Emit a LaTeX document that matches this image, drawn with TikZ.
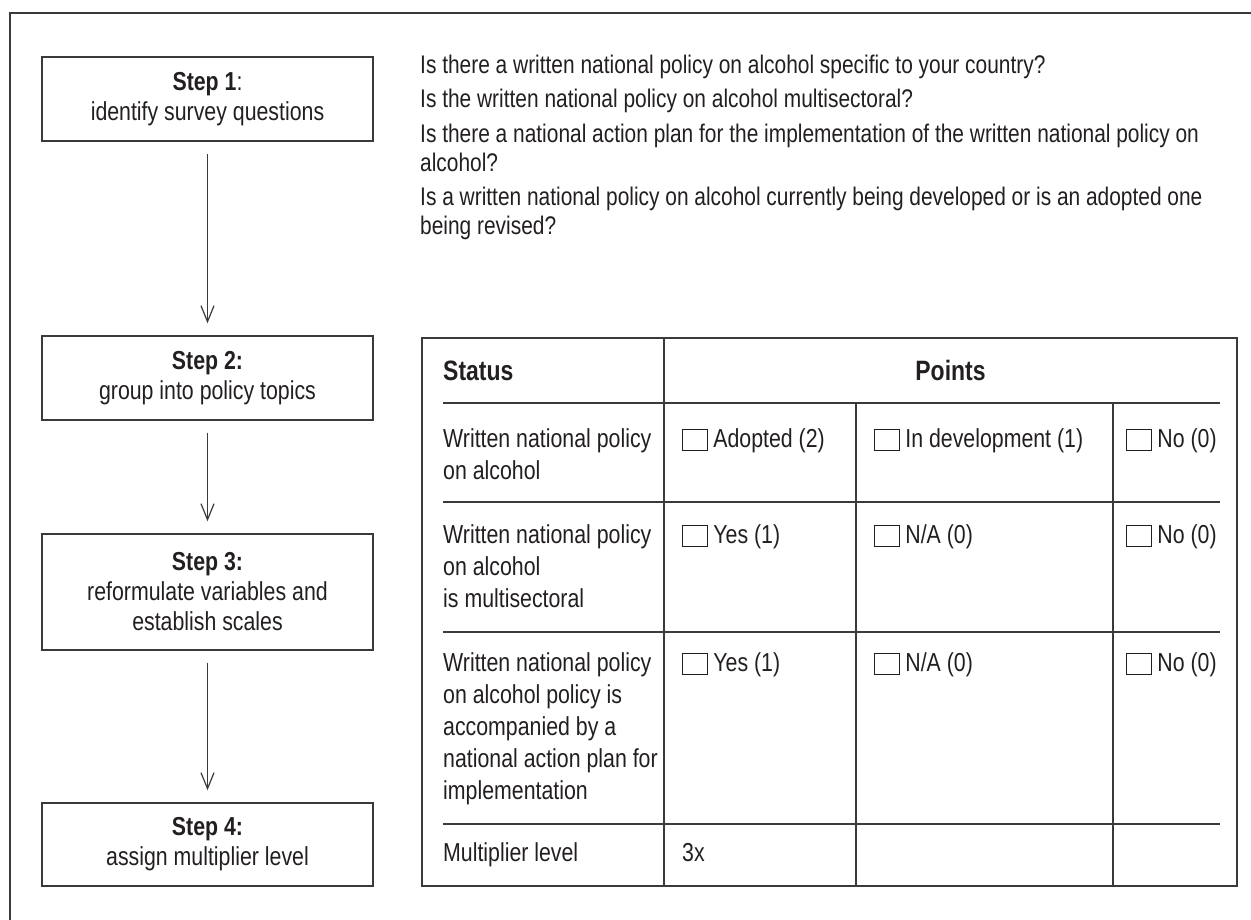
\documentclass[tikz,border=0pt]{standalone}
\usepackage{fontspec}
\setmainfont{Liberation Sans}[FakeStretch=0.82]
\usetikzlibrary{arrows.meta}
\definecolor{ink}{HTML}{231F20}
\definecolor{rulec}{HTML}{3A3A3A}
\newcommand\tf{\fontsize{26}{32}\selectfont}
\newcommand\qf{\fontsize{25.5}{29}\selectfont}
\newcommand\hf{\fontsize{28}{32}\selectfont\bfseries}
\newcommand\sfnt{\fontsize{26}{30}\selectfont}
\newcommand\chk{{\setlength\fboxsep{0pt}\setlength\fboxrule{1.1pt}\raisebox{-3pt}{\fbox{\rule{0pt}{20pt}\hspace{24pt}}}}\hspace{5pt}}
\begin{document}
\begin{tikzpicture}[x=1pt,y=-1pt,
  rulel/.style={draw=rulec,line width=1.4pt},
  framel/.style={draw=rulec,line width=1.8pt},
  stepbox/.style={draw=rulec,line width=1.4pt,minimum width=331pt,align=center,font=\sfnt,text=ink,inner sep=0pt},
  arr/.style={draw=rulec,line width=1.2pt,-{Straight Barb[length=16pt,width=13pt,line width=1.2pt]},shorten <=12pt,shorten >=12pt},
  txt/.style={anchor=north west,inner sep=0pt,align=left,font=\tf,text=ink},
  qtxt/.style={anchor=north west,inner sep=0pt,align=left,font=\qf,text=ink},
  btxt/.style={anchor=base west,inner sep=0pt,font=\tf,text=ink}]
\useasboundingbox (0,0) rectangle (1251,919);
% frame
\draw[framel] (1252,13) -- (10,13) -- (10,920);
% steps
\node[stepbox,minimum height=84pt] (s1) at (207.5,99) {\textbf{Step 1}:\\identify survey questions};
\node[stepbox,minimum height=84pt] (s2) at (207.5,378) {\textbf{Step 2:}\\group into policy topics};
\node[stepbox,minimum height=116pt] (s3) at (207.5,592) {\textbf{Step 3:}\\reformulate variables and\\establish scales};
\node[stepbox,minimum height=83pt] (s4) at (207.5,844.5) {\textbf{Step 4:}\\assign multiplier level};
\draw[arr] (s1) -- (s2);
\draw[arr] (s2) -- (s3);
\draw[arr] (s3) -- (s4);
% questions (top = baseline - 20.3)
\node[qtxt] (q1) at (420,52.7) {\strut Is there a written national policy on alcohol specific to your country?};
\node[qtxt] (q2) at (420,86.7) {\strut Is the written national policy on alcohol multisectoral?};
\node[qtxt] (q3) at (420,121.7) {\strut Is there a national action plan for the implementation of the written national policy on\\alcohol?};
\node[qtxt] (q4) at (420,184.7) {\strut Is a written national policy on alcohol currently being developed or is an adopted one\\being revised?};
% table
\draw[rulel] (422,338) rectangle (1237,886);
\draw[rulel] (664,338) -- (664,886);
\draw[rulel] (856,403) -- (856,886);
\draw[rulel] (1113,403) -- (1113,886);
\draw[rulel] (443,403) -- (1220,403);
\draw[rulel] (443,502) -- (1220,502);
\draw[rulel] (443,632) -- (1220,632);
\draw[rulel] (443,824) -- (1220,824);
\node[anchor=base west,inner sep=0pt,font=\hf,text=ink] (hs) at (443,380) {Status};
\node[anchor=base,inner sep=0pt,font=\hf,text=ink] (hp) at (950.5,380) {Points};
% row 1
\node[txt] (r1) at (443,424.6) {\strut Written national policy\\on alcohol};
\node[btxt] (r1a) at (682,447) {\chk Adopted (2)};
\node[btxt] (r1b) at (874,447) {\chk In development (1)};
\node[btxt] (r1c) at (1126,447) {\chk No (0)};
% row 2
\node[txt] (r2) at (443,520.6) {\strut Written national policy\\on alcohol\\is multisectoral};
\node[btxt] (r2a) at (682,543) {\chk Yes (1)};
\node[btxt] (r2b) at (874,543) {\chk N/A (0)};
\node[btxt] (r2c) at (1126,543) {\chk No (0)};
% row 3
\node[txt] (r3) at (443,648.6) {\strut Written national policy\\on alcohol policy is\\accompanied by a\\national action plan for\\implementation};
\node[btxt] (r3a) at (682,671) {\chk Yes (1)};
\node[btxt] (r3b) at (874,671) {\chk N/A (0)};
\node[btxt] (r3c) at (1126,671) {\chk No (0)};
% row 4
\node[btxt] (r4) at (443,861) {Multiplier level};
\node[btxt] (r4a) at (682,861) {3x};
\end{tikzpicture}
\end{document}
